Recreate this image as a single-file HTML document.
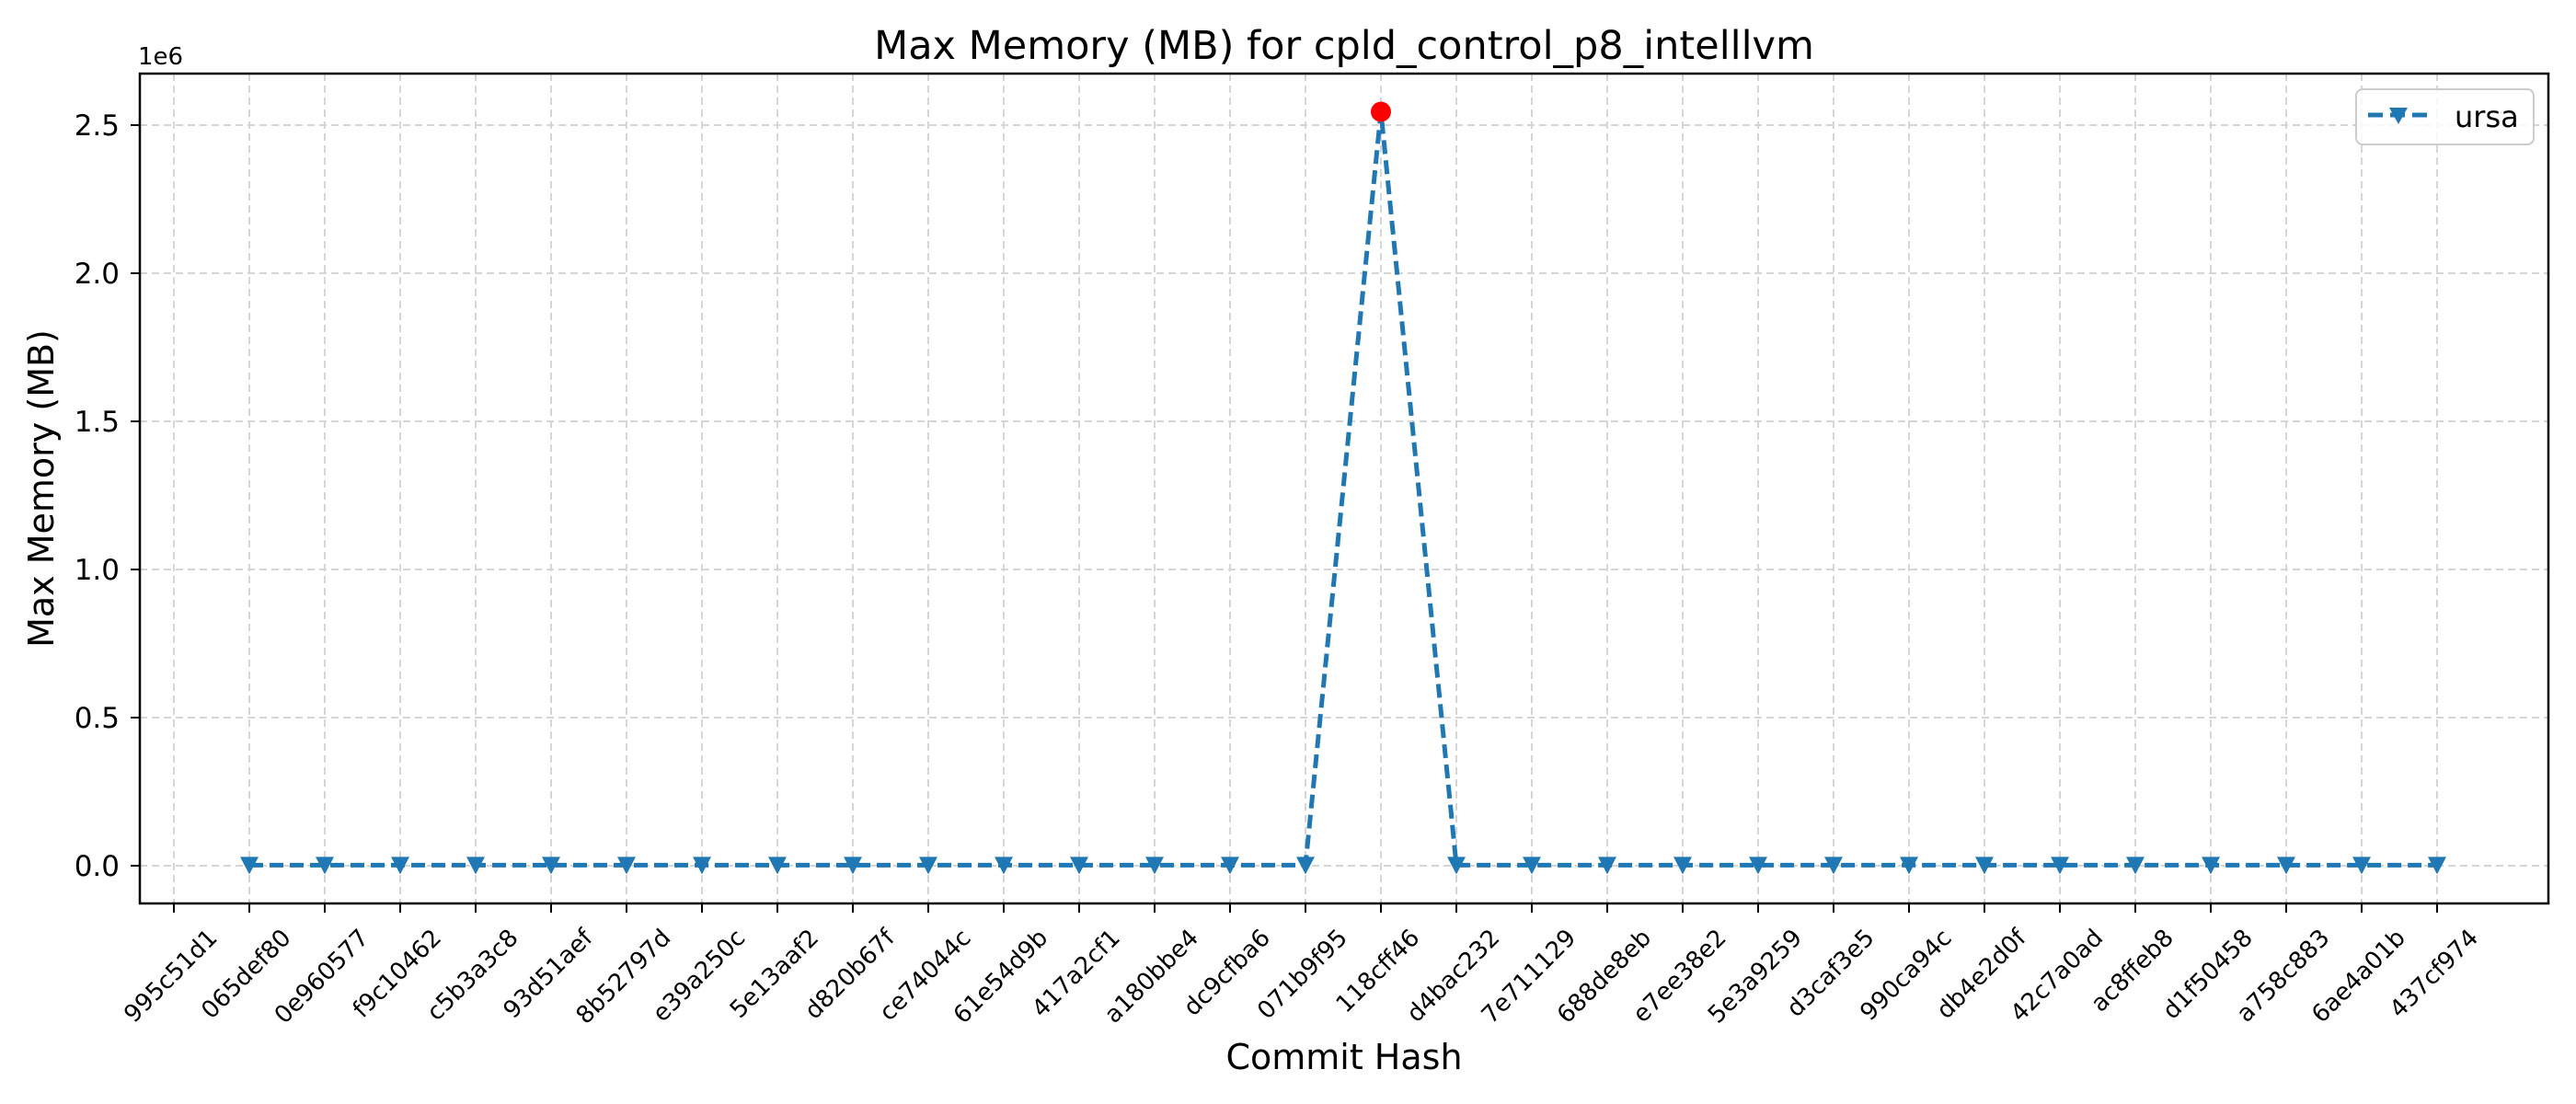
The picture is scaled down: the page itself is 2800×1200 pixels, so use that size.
<!DOCTYPE html>
<html><head><meta charset="utf-8"><style>
body{margin:0;background:#fff}
svg{display:block;font-family:"DejaVu Sans","Liberation Sans",sans-serif}
</style></head><body>
<svg id="chart" width="2800" height="1200" viewBox="0 0 2800 1200" xmlns="http://www.w3.org/2000/svg">
<rect width="2800" height="1200" fill="#fff"/>
<g id="grid"></g>
<g id="axes"></g>
<g id="series"></g>
<text x="1461" y="64" font-size="43" text-anchor="middle">Max Memory (MB) for cpld_control_p8_intelllvm</text>
<text x="1461" y="1162" font-size="38" text-anchor="middle">Commit Hash</text>
<text transform="translate(58,531) rotate(-90)" font-size="38" text-anchor="middle">Max Memory (MB)</text>
<text x="150" y="70" font-size="26">1e6</text>
<g>
<rect x="2561" y="97" width="193" height="60" rx="7" fill="#fff" fill-opacity="0.8" stroke="#ccc" stroke-width="2"/>
<line x1="2574" y1="125" x2="2642" y2="125" stroke="#1f77b4" stroke-width="5" stroke-dasharray="16,8"/>
<path d="M2597,117 L2617,117 L2607,135 Z" fill="#1f77b4"/>
<text x="2668" y="138" font-size="32">ursa</text>
</g>
</svg>
<script>
const categories=["995c51d1","065def80","0e960577","f9c10462","c5b3a3c8","93d51aef","8b52797d","e39a250c","5e13aaf2","d820b67f","ce74044c","61e54d9b","417a2cf1","a180bbe4","dc9cfba6","071b9f95","118cff46","d4bac232","7e711129","688de8eb","e7ee38e2","5e3a9259","d3caf3e5","990ca94c","db4e2d0f","42c7a0ad","ac8ffeb8","d1f50458","a758c883","6ae4a01b","437cf974"];
const values=[null,2000,2000,2000,2000,2000,2000,2000,2000,2000,2000,2000,2000,2000,2000,2000,2545000,2000,2000,2000,2000,2000,2000,2000,2000,2000,2000,2000,2000,2000,2000];
const yTicks=[0,500000,1000000,1500000,2000000,2500000];
const yTickLabels=["0.0","0.5","1.0","1.5","2.0","2.5"];
const NS="http://www.w3.org/2000/svg";
const L=152,R=2770,T=80,B=982;
function xs(i){return 189+i*(2649-189)/(categories.length-1);}
function ys(v){return 941-v*(941-136)/2500000;}
function mk(tag,attrs,parent){const e=document.createElementNS(NS,tag);for(const k in attrs)e.setAttribute(k,attrs[k]);parent.appendChild(e);return e;}
const grid=document.getElementById('grid'),axes=document.getElementById('axes'),ser=document.getElementById('series');
categories.forEach((c,i)=>{
  const x=xs(i);
  const g=mk('line',{x1:x,x2:x,y1:T,y2:B,stroke:'#d5d5d5','stroke-width':2,'stroke-dasharray':'8,5'},grid);
  
  
  const t=mk('line',{x1:x,x2:x,y1:B,y2:B+10,stroke:'#000','stroke-width':2},axes);
  
  
  const lb=mk('text',{'font-size':26,'text-anchor':'middle','dominant-baseline':'central'},axes);
  lb.textContent=c;
  
  
  const len=lb.getComputedTextLength();
  const half=(len+26)*0.7071/2;
  lb.setAttribute('transform',`translate(${x-3},${B+24+half}) rotate(-45)`);
});
yTicks.forEach((v,i)=>{
  const y=ys(v);
  const g=mk('line',{x1:L,x2:R,y1:y,y2:y,stroke:'#d5d5d5','stroke-width':2,'stroke-dasharray':'8,5'},grid);
  
  
  const t=mk('line',{x1:L-10,x2:L,y1:y,y2:y,stroke:'#000','stroke-width':2},axes);
  
  
  const lb=mk('text',{x:L-22,y:y+11,'font-size':31,'text-anchor':'end'},axes);
  lb.textContent=yTickLabels[i];
  
  
});
const frame=mk('rect',{x:L,y:T,width:R-L,height:B-T,fill:'none',stroke:'#000','stroke-width':2.5},axes);


let d='';
values.forEach((v,i)=>{if(v!==null)d+=(d?'L':'M')+xs(i)+','+ys(v);});
const line=mk('path',{d:d,fill:'none',stroke:'#1f77b4','stroke-width':5,'stroke-dasharray':'15,7','stroke-linejoin':'round'},ser);


let maxI=0;values.forEach((v,i)=>{if(v!==null&&v>values[maxI])maxI=i;});
values.forEach((v,i)=>{
  if(v===null||i===maxI)return;
  const x=xs(i),y=ys(v);
  const m=mk('path',{d:`M${x-10},${y-9}L${x+10},${y-9}L${x},${y+10}Z`,fill:'#1f77b4'},ser);
  
  
});
const pk=mk('circle',{cx:xs(maxI),cy:ys(values[maxI]),r:11,fill:'#ff0000'},ser);


</script>
</body></html>
